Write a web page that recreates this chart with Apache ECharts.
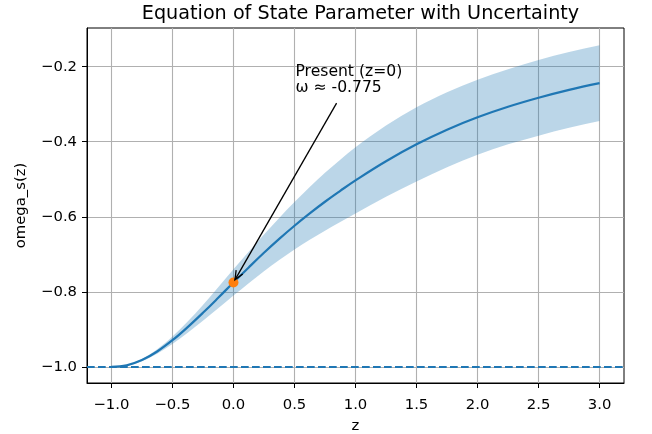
<!DOCTYPE html>
<html>
<head>
<meta charset="utf-8">
<script src="https://cdn.jsdelivr.net/npm/echarts@6/dist/echarts.min.js"></script>
<style>
html,body{margin:0;padding:0;background:#fff;}
#chart{width:652px;height:434px;}
</style>
</head>
<body>
<div id="chart"></div>
<script>
const zValues     = [-1.0, -0.875, -0.75, -0.625, -0.5, -0.375, -0.25, -0.125, 0.0, 0.125, 0.25, 0.375, 0.5, 0.625, 0.75, 0.875, 1.0, 1.25, 1.5, 1.75, 2.0, 2.25, 2.5, 2.75, 3.0];
const omegaValues = [-1.000, -0.996, -0.982, -0.959, -0.929, -0.894, -0.856, -0.816, -0.775, -0.735, -0.696, -0.659, -0.624, -0.591, -0.560, -0.531, -0.503, -0.452, -0.407, -0.368, -0.335, -0.307, -0.283, -0.262, -0.244];
const upperValues = [-1.000, -0.995, -0.979, -0.953, -0.919, -0.879, -0.835, -0.788, -0.740, -0.693, -0.647, -0.603, -0.561, -0.521, -0.483, -0.448, -0.415, -0.357, -0.308, -0.268, -0.235, -0.207, -0.182, -0.161, -0.143];
const lowerValues = [-1.000, -0.997, -0.985, -0.965, -0.939, -0.909, -0.877, -0.844, -0.810, -0.777, -0.745, -0.715, -0.687, -0.661, -0.637, -0.614, -0.591, -0.547, -0.506, -0.468, -0.435, -0.407, -0.384, -0.363, -0.345];
const xTicks = [-1.0, -0.5, 0.0, 0.5, 1.0, 1.5, 2.0, 2.5, 3.0];
const yTicks = [-1.0, -0.8, -0.6, -0.4, -0.2];
const xRange = [-1.2, 3.2];
const yRange = [-1.043, -0.097];
const baselineOmega = -1.0;
const presentPoint = [0.0, -0.775];
const annotationTextPos = [0.5, -0.2];
const arrowStart = [0.845, -0.297];
const annotationLines = ['Present (z=0)', 'ω ≈ -0.775'];

const FONT = '"DejaVu Sans", "Noto Sans", sans-serif';
const fmt = v => (Math.abs(v) < 1e-9 ? 0 : v).toFixed(1).replace('-', '\u2212');

// cubic bezier segments through pixel points (drawing helper for the band outline)
function curveThrough(pts) {
  let d = '';
  const n = pts.length;
  for (let i = 0; i < n - 1; i++) {
    const p0 = pts[Math.max(i - 1, 0)], p1 = pts[i], p2 = pts[i + 1], p3 = pts[Math.min(i + 2, n - 1)];
    const d01 = Math.abs(p1[0] - p0[0]), d12 = Math.abs(p2[0] - p1[0]), d23 = Math.abs(p3[0] - p2[0]);
    const a = d12 / (3 * ((d01 + d12) || 1)), b = d12 / (3 * ((d12 + d23) || 1));
    const c1 = [p1[0] + (p2[0] - p0[0]) * a, p1[1] + (p2[1] - p0[1]) * a];
    const c2 = [p2[0] - (p3[0] - p1[0]) * b, p2[1] - (p3[1] - p1[1]) * b];
    d += ' C' + c1[0].toFixed(2) + ' ' + c1[1].toFixed(2) + ' ' + c2[0].toFixed(2) + ' ' + c2[1].toFixed(2) + ' ' + p2[0].toFixed(2) + ' ' + p2[1].toFixed(2);
  }
  return d;
}

const chart = echarts.init(document.getElementById('chart'), null, {renderer: 'canvas'});
chart.setOption({
  animation: false,
  backgroundColor: '#fff',
  title: {
    text: 'Equation of State Parameter with Uncertainty',
    left: 355.5, top: 0, textAlign: 'center',
    textStyle: {fontFamily: FONT, fontSize: 19.2, fontWeight: 'normal', color: '#000'}
  },
  grid: {left: 87, right: 28, top: 28, bottom: 51, show: true, borderColor: '#000', borderWidth: 1,
         backgroundColor: 'transparent', outerBoundsMode: 'none', containLabel: false},
  xAxis: {
    type: 'value', min: xRange[0], max: xRange[1], splitNumber: 9,
    name: 'z', nameLocation: 'middle', nameGap: 36,
    nameTextStyle: {fontFamily: FONT, fontSize: 14.8, color: '#000'},
    axisLine: {show: true, onZero: false, lineStyle: {color: '#000', width: 1}},
    axisTick: {show: true, length: 5, customValues: xTicks, lineStyle: {color: '#000', width: 1}},
    axisLabel: {customValues: xTicks, formatter: fmt, margin: 15, color: '#000', fontFamily: FONT, fontSize: 14.8},
    splitLine: {show: true, lineStyle: {color: '#b0b0b0', width: 1.1}}
  },
  yAxis: {
    type: 'value', min: yRange[0], max: yRange[1], splitNumber: 5,
    name: 'omega_s(z)', nameLocation: 'middle', nameGap: 58, nameRotate: 90,
    nameTextStyle: {fontFamily: FONT, fontSize: 14.8, color: '#000'},
    axisLine: {show: true, onZero: false, lineStyle: {color: '#000', width: 1}},
    axisTick: {show: true, length: 5, customValues: yTicks, lineStyle: {color: '#000', width: 1}},
    axisLabel: {customValues: yTicks, formatter: fmt, margin: 10, color: '#000', fontFamily: FONT, fontSize: 14.8},
    splitLine: {show: true, lineStyle: {color: '#b0b0b0', width: 1.1}}
  },
  series: [
    {
      type: 'custom', coordinateSystem: 'cartesian2d', z: 1, silent: true,
      data: [[0, -0.5]],
      renderItem: function (params, api) {
        const up = zValues.map((z, i) => api.coord([z, upperValues[i]]));
        const lo = zValues.map((z, i) => api.coord([z, lowerValues[i]])).reverse();
        const d = 'M' + up[0][0].toFixed(2) + ' ' + up[0][1].toFixed(2) + curveThrough(up) +
                  ' L' + lo[0][0].toFixed(2) + ' ' + lo[0][1].toFixed(2) + curveThrough(lo) + ' Z';
        return {type: 'path', shape: {pathData: d}, style: {fill: 'rgba(31,119,180,0.3)', stroke: null}};
      }
    },
    {
      type: 'line', z: 3, silent: true,
      data: zValues.map((z, i) => [z, omegaValues[i]]),
      smooth: 0.4, showSymbol: false,
      lineStyle: {color: '#1f77b4', width: 2.2},
      markLine: {
        silent: true, symbol: ['none', 'none'], label: {show: false},
        lineStyle: {color: '#1f77b4', type: [7.7, 3.3], width: 2.2},
        data: [{yAxis: baselineOmega}]
      }
    },
    {
      type: 'scatter', z: 4, silent: true,
      data: [presentPoint], symbolSize: 10,
      itemStyle: {color: '#ff7f0e', opacity: 1}
    },
    {
      type: 'custom', coordinateSystem: 'cartesian2d', z: 5, silent: true,
      data: [[0, -0.5]],
      renderItem: function (params, api) {
        const t = api.coord(annotationTextPos);
        const s = api.coord(arrowStart);
        const e = api.coord(presentPoint);
        let dx = s[0] - e[0], dy = s[1] - e[1];
        const len = Math.sqrt(dx * dx + dy * dy); dx /= len; dy /= len;
        const tip = [e[0] + dx * 3, e[1] + dy * 3];
        const L = 9, W = 3.8;
        const px = -dy, py = dx;
        const h1 = [tip[0] + dx * L + px * W, tip[1] + dy * L + py * W];
        const h2 = [tip[0] + dx * L - px * W, tip[1] + dy * L - py * W];
        return {
          type: 'group',
          children: [
            {type: 'text', style: {text: annotationLines.join('\n'), x: t[0] + 1, y: t[1] - 3, fill: '#000',
              fontFamily: FONT, fontSize: 15.6, align: 'left', verticalAlign: 'top', lineHeight: 16.5}},
            {type: 'line', shape: {x1: s[0], y1: s[1], x2: tip[0], y2: tip[1]}, style: {stroke: '#000', lineWidth: 1.3}},
            {type: 'polyline', shape: {points: [h1, tip, h2]}, style: {stroke: '#000', lineWidth: 1.3, fill: null}}
          ]
        };
      }
    }
  ]
});
</script>
</body>
</html>
